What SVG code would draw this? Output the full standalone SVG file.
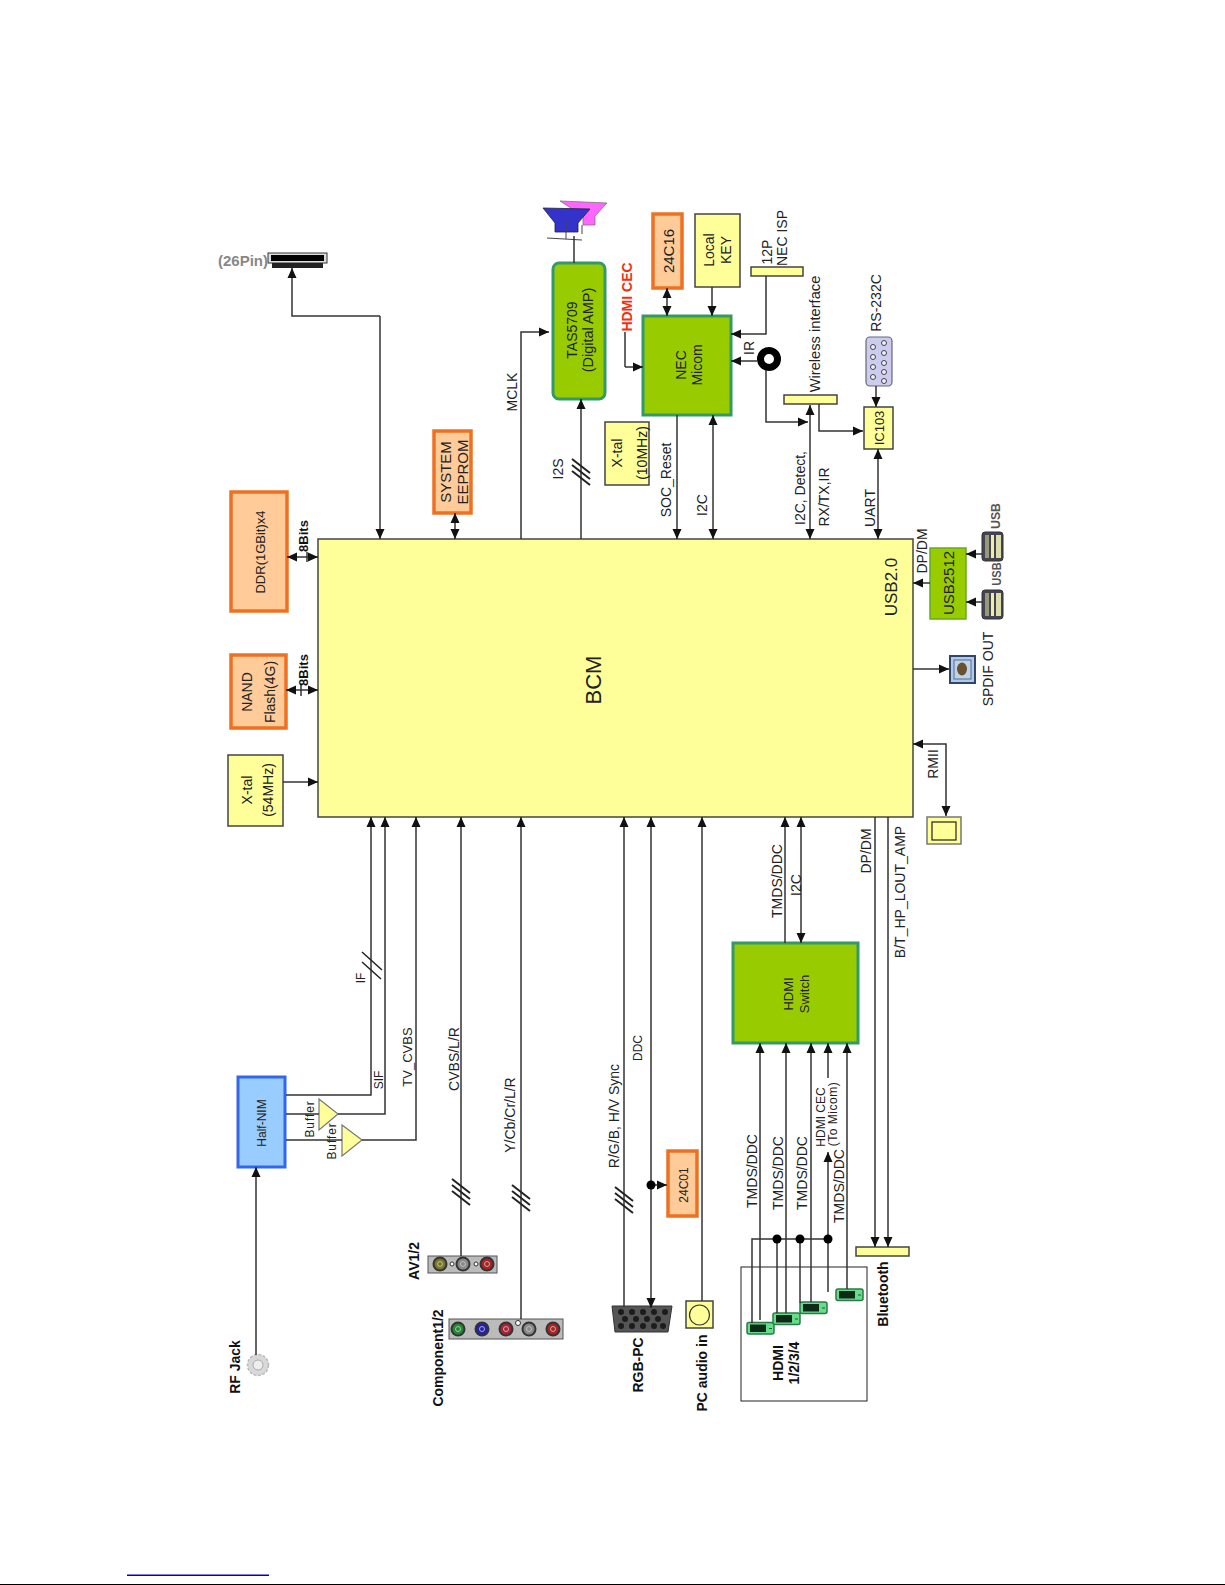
<svg xmlns="http://www.w3.org/2000/svg" xmlns:xlink="http://www.w3.org/1999/xlink" width="1225" height="1585" viewBox="0 0 1225 1585">
<style>
text{font-family:"Liberation Sans",Arial,sans-serif;fill:#222;text-anchor:middle;dominant-baseline:central}
.s12{font-size:12px}.s13{font-size:13px}.s14{font-size:14px}.s15{font-size:15px}
.sp{letter-spacing:0.9px}
.b{font-weight:bold;fill:#111}
.y{fill:#ffff99;stroke:#444;stroke-width:1.5}
.o{fill:#ffcc99;stroke:#ee7020;stroke-width:3.5}
.g{fill:#99cc00;stroke:#339966;stroke-width:3}
.c path,.c line{fill:none;stroke:#333;stroke-width:1.5}
.a{marker-end:url(#ah)}
.d{marker-end:url(#ah);marker-start:url(#ahs)}
.t line{stroke:#222;stroke-width:2}
.plate{fill:#bbb;stroke:#555;stroke-width:1}
</style>
<defs>
<marker id="ah" markerUnits="userSpaceOnUse" markerWidth="10" markerHeight="10" refX="10" refY="5" viewBox="0 0 10 10" orient="auto"><path d="M0,0.5 L10,5 L0,9.5 z" fill="#111"/></marker>
<marker id="ahs" markerUnits="userSpaceOnUse" markerWidth="10" markerHeight="10" refX="0" refY="5" viewBox="0 0 10 10" orient="auto"><path d="M10,0.5 L0,5 L10,9.5 z" fill="#111"/></marker>
<g id="t3" class="t"><line x1="-9" y1="-13" x2="9" y2="1"/><line x1="-9" y1="-7" x2="9" y2="7"/><line x1="-9" y1="-1" x2="9" y2="13"/></g>
<g id="hdmi"><rect x="0" y="0" width="27" height="11.500" rx="2" fill="#66dd88" stroke="#2a7a4a" stroke-width="1.500"/><rect x="3" y="2" width="16" height="7.500" fill="#0f2a18"/><line x1="22" y1="6" x2="25" y2="6" stroke="#1a5a30" stroke-width="1"/></g>
<g id="jack"><circle r="7.500" fill="#333"/><circle r="5.500" fill="currentColor"/><circle r="2.500" fill="none" stroke="#ccc" stroke-width="0.800"/></g>
<g id="usbc"><rect x="0" y="0" width="21" height="29" rx="3" fill="#445" stroke="#333"/><rect x="3" y="3" width="4" height="23" fill="#999977"/><rect x="9" y="3" width="3" height="23" fill="#eeeeaa"/><rect x="14" y="3" width="5" height="23" fill="#ddddaa"/></g>
</defs>
<rect width="1225" height="1585" fill="#fff"/>

<g id="bcm"><rect x="318" y="539" width="595" height="278" class="y"/><text transform="translate(593,680) rotate(-90)" style="font-size:22px">BCM</text><text transform="translate(891,587) rotate(-90)" style="font-size:17px">USB2.0</text></g>

<g id="ddr"><rect x="231" y="492" width="56" height="119" class="o"/><text transform="translate(260,552) rotate(-90)" class="s13">DDR(1GBit)x4</text></g>
<g id="nand"><rect x="231" y="655" width="55" height="73" class="o"/><text transform="translate(247,692) rotate(-90)" class="s14">NAND</text><text transform="translate(270,692) rotate(-90)" class="s14">Flash(4G)</text></g>
<g id="xtal54"><rect x="228" y="755" width="55" height="71" class="y"/><text transform="translate(247,790) rotate(-90)" class="s14">X-tal</text><text transform="translate(268,790) rotate(-90)" class="s14">(54MHz)</text></g>
<g id="eeprom"><rect x="434" y="431" width="37" height="82" class="o"/><text transform="translate(445,472) rotate(-90)" class="s15">SYSTEM</text><text transform="translate(462,472) rotate(-90)" class="s15">EEPROM</text></g>
<g id="conn26"><rect x="268" y="253" width="59" height="10" fill="#ddd" stroke="#333" stroke-width="1"/><rect x="271" y="255" width="53" height="6" fill="#000"/><rect x="272" y="263" width="51" height="5" fill="#222"/><text x="243" y="260" style="font-size:15px;font-weight:bold;fill:#888">(26Pin)</text></g>
<g id="speakers"><path d="M560,201 L607,203 L595,216 L595,225 L583,225 L583,216 z" fill="#ff66ff" stroke="#777" stroke-width="0.800"/><path d="M543,208 L590,209 L578,223 L578,232 L555,232 L555,223 z" fill="#3333cc" stroke="#223" stroke-width="0.800"/><path d="M547,238 L582,240 M566,220 V239 M582,225 V234" fill="none" stroke="#444" stroke-width="1"/></g>
<g id="tas"><rect x="553" y="263" width="52" height="136" rx="6" class="g"/><text transform="translate(572,330) rotate(-90)" class="s14">TAS5709</text><text transform="translate(588,330) rotate(-90)" style="font-size:14.500px">(Digital AMP)</text></g>
<g id="e24c16"><rect x="653" y="214" width="29" height="74" class="o"/><text transform="translate(668,251) rotate(-90)" class="s15">24C16</text></g>
<g id="localkey"><rect x="695" y="214" width="45" height="73" class="y"/><text transform="translate(709,250) rotate(-90)" class="s14">Local</text><text transform="translate(726,250) rotate(-90)" class="s14">KEY</text></g>
<g id="isp"><rect x="751" y="267" width="52" height="9" class="y"/><text transform="translate(767,252) rotate(-90)" class="s14">12P</text><text transform="translate(782,238) rotate(-90)" class="s14">NEC ISP</text></g>
<g id="micom"><rect x="643" y="316" width="88" height="99" class="g"/><text transform="translate(681,365) rotate(-90)" class="s14">NEC</text><text transform="translate(697,365) rotate(-90)" class="s14">Micom</text></g>
<g id="hdmicec-label"><text transform="translate(627,297) rotate(-90)" class="s14" style="font-weight:bold;fill:#f03010">HDMI CEC</text></g>
<g id="irsensor"><circle cx="769" cy="359" r="8.500" fill="none" stroke="#000" stroke-width="7"/><text transform="translate(749,348) rotate(-90)" class="s14">IR</text></g>
<g id="wireless"><rect x="784" y="395" width="53" height="9" class="y"/><text transform="translate(815,334) rotate(-90)" style="font-size:14.700px">Wireless interface</text></g>
<g id="ic103"><rect x="864" y="407" width="29" height="42" class="y"/><text transform="translate(879,428) rotate(-90)" class="s13">IC103</text></g>
<g id="rs232"><rect x="866" y="337" width="26" height="49" rx="4" fill="#ccccee" stroke="#667" stroke-width="1.200"/><g fill="#eef" stroke="#444" stroke-width="1"><circle cx="884" cy="343" r="2.500"/><circle cx="884" cy="353" r="2.500"/><circle cx="884" cy="363" r="2.500"/><circle cx="884" cy="372" r="2.500"/><circle cx="884" cy="381" r="2.500"/><circle cx="873" cy="347" r="2.500"/><circle cx="873" cy="357" r="2.500"/><circle cx="873" cy="367" r="2.500"/><circle cx="873" cy="377" r="2.500"/></g><text transform="translate(876,303) rotate(-90)" class="s14">RS-232C</text></g>
<g id="xtal10"><rect x="605" y="422" width="44" height="63" class="y"/><text transform="translate(617,453) rotate(-90)" class="s14">X-tal</text><text transform="translate(642,453) rotate(-90)" class="s14">(10MHz)</text></g>
<g id="usb2512"><rect x="930" y="548" width="36" height="71" fill="#99cc00" stroke="#66aa22" stroke-width="1.500"/><text transform="translate(948,583) rotate(-90)" class="s15">USB2512</text></g>
<g id="usb1"><use href="#usbc" x="982" y="532"/><text transform="translate(996,516) rotate(-90) scale(0.95,1)" class="s13 b" style="fill:#555">USB</text></g>
<g id="usb2"><use href="#usbc" x="982" y="590"/><text transform="translate(997,574) rotate(-90) scale(0.85,1)" class="s13 b" style="fill:#555">USB</text></g>
<g id="spdif"><rect x="950" y="656" width="25" height="27" fill="#aaccee" stroke="#334466" stroke-width="2"/><rect x="954" y="660" width="17" height="19" fill="#bbd4ee" stroke="#667" stroke-width="1"/><ellipse cx="962" cy="669" rx="5" ry="6.500" fill="#6b5030"/><text transform="translate(988,669) rotate(-90)" class="s14">SPDIF OUT</text></g>
<g id="rmiiport"><rect x="927" y="817" width="34" height="27" fill="#ffff99" stroke="#777" stroke-width="1.500"/><rect x="932" y="822" width="24" height="18" fill="#ffff99" stroke="#222" stroke-width="1.200"/><text transform="translate(933,764) rotate(-90)" class="s14">RMII</text></g>

<g id="halfnim"><rect x="238" y="1077" width="47" height="90" fill="#99ccff" stroke="#3366ee" stroke-width="3"/><text transform="translate(262,1123) rotate(-90)" class="s12">Half-NIM</text></g>
<g id="buffer1"><path d="M319,1099 V1130 L338,1114 z" fill="#ffff99" stroke="#777" stroke-width="1.200"/><text transform="translate(310,1119) rotate(-90)" class="s12 sp">Buffer</text></g>
<g id="buffer2"><path d="M342,1125 V1156 L362,1140 z" fill="#ffff99" stroke="#777" stroke-width="1.200"/><text transform="translate(332,1141) rotate(-90)" class="s12 sp">Buffer</text></g>
<g id="rfjack"><circle cx="258" cy="1365" r="10.500" fill="#d8d8d8" stroke="#bbb" stroke-width="1.500" stroke-dasharray="3 1.500"/><circle cx="258" cy="1365" r="5" fill="#eee" stroke="#aaa"/><text transform="translate(235,1367) rotate(-90)" class="s14 b">RF Jack</text></g>
<g id="av"><rect x="428" y="1256" width="69" height="17" class="plate"/><use href="#jack" x="440" y="1264" color="#777722"/><use href="#jack" x="463" y="1264" color="#888"/><use href="#jack" x="487" y="1264" color="#aa2222"/><circle cx="452" cy="1264" r="2" fill="#fff" stroke="#333"/><circle cx="476" cy="1264" r="2" fill="#fff" stroke="#333"/><text transform="translate(414,1261) rotate(-90)" class="s14 b">AV1/2</text></g>
<g id="component"><rect x="449" y="1319" width="114" height="20" class="plate"/><use href="#jack" x="458" y="1329" color="#228833"/><use href="#jack" x="482" y="1329" color="#2222aa"/><use href="#jack" x="506" y="1329" color="#aa2233"/><use href="#jack" x="529" y="1329" color="#888"/><use href="#jack" x="553" y="1329" color="#aa2222"/><circle cx="518" cy="1323" r="2.500" fill="#fff" stroke="#333"/><text transform="translate(438,1358) rotate(-90)" class="s14 b">Component1/2</text></g>
<g id="vga"><path d="M612,1306 H672 L668,1332 H615 z" fill="#555" stroke="#333"/><g fill="#1c1c1c"><circle cx="621" cy="1312" r="3"/><circle cx="632" cy="1312" r="3"/><circle cx="643" cy="1312" r="3"/><circle cx="654" cy="1312" r="3"/><circle cx="665" cy="1312" r="3"/><circle cx="625" cy="1319" r="3"/><circle cx="636" cy="1319" r="3"/><circle cx="647" cy="1319" r="3"/><circle cx="658" cy="1319" r="3"/><circle cx="621" cy="1326" r="3"/><circle cx="632" cy="1326" r="3"/><circle cx="643" cy="1326" r="3"/><circle cx="654" cy="1326" r="3"/><circle cx="663" cy="1326" r="3"/></g><text transform="translate(638,1365) rotate(-90)" class="s14 b">RGB-PC</text></g>
<g id="e24c01"><rect x="668" y="1151" width="29" height="65" class="o"/><text transform="translate(684,1185) rotate(-90)" class="s12">24C01</text></g>
<g id="pcaudio"><rect x="686" y="1301" width="27" height="27" class="y"/><circle cx="699.500" cy="1315" r="10" fill="none" stroke="#333" stroke-width="1.200"/><text transform="translate(702,1373) rotate(-90)" class="s14 b">PC audio in</text></g>
<g id="hdmiswitch"><rect x="733" y="943" width="125" height="100" class="g"/><text transform="translate(788,994) rotate(-90)" class="s13">HDMI</text><text transform="translate(804,994) rotate(-90)" class="s13">Switch</text></g>
<g id="hdmiports"><rect x="741" y="1267" width="126" height="134" fill="none" stroke="#222" stroke-width="1"/><use href="#hdmi" x="747" y="1322.500"/><use href="#hdmi" x="773" y="1313"/><use href="#hdmi" x="800" y="1302"/><use href="#hdmi" x="836" y="1289"/><text transform="translate(778,1363) rotate(-90)" class="s14 b">HDMI</text><text transform="translate(794,1363) rotate(-90)" class="s14 b">1/2/3/4</text></g>
<g id="bluetooth"><rect x="856" y="1247" width="53" height="9" class="y"/><text transform="translate(883,1294) rotate(-90)" class="s14 b">Bluetooth</text></g>

<g id="connectors" class="c">
<path class="a" d="M380,316 V539"/><path class="a" d="M380,316 H292 V268"/>
<path class="a" d="M521,539 V332 H549"/>
<path class="a" d="M581,539 V399"/>
<path class="d" d="M455,513 V539"/>
<path class="d" d="M287,557 H318"/><path d="M307,552 V562"/>
<path class="d" d="M286,690 H318"/><path d="M301,684 V696"/>
<path class="a" d="M283,782 H318"/>
<path d="M574,236 V263"/>
<path d="M625,332 V367"/><path class="a" d="M625,367 H643"/>
<path class="d" d="M667,288 V316"/>
<path class="a" d="M712,287 V316"/>
<path class="a" d="M766,276 V334 H731"/>
<path class="a" d="M757,361 H731"/>
<path class="a" d="M766,370 V422 H808"/>
<path class="d" d="M810,405 V539"/>
<path class="a" d="M819,404 V431 H863"/>
<path class="a" d="M876,386 V407"/>
<path class="d" d="M878,449 V539"/>
<path class="a" d="M677,415 V539"/>
<path class="d" d="M713,415 V539"/>
<path class="a" d="M930,583 H913"/>
<path class="a" d="M982,554 H966"/>
<path class="a" d="M982,602 H966"/>
<path class="a" d="M913,669 H949"/>
<path class="d" d="M913,744 H946 V816"/>
<path class="a" d="M286,1095 H371 V817"/>
<path d="M286,1114 H319"/><path class="a" d="M338,1114 H385 V817"/>
<path d="M286,1140 H342"/><path class="a" d="M362,1140 H416 V817"/>
<path class="a" d="M256,1355 V1167"/>
<path class="a" d="M461,1256 V817"/>
<path class="a" d="M521,1319 V817"/>
<path class="a" d="M624,1307 V817"/>
<path class="d" d="M651,1308 V817"/>
<path class="a" d="M651,1185 H667"/>
<path class="a" d="M702,1301 V817"/>
<path class="a" d="M785,943 V817"/>
<path class="d" d="M801,943 V817"/>
<path class="a" d="M875,817 V1247"/>
<path class="a" d="M888,817 V1247"/>
<path class="a" d="M760,1320 V1043"/>
<path class="a" d="M786,1313 V1043"/>
<path class="a" d="M811,1302 V1043"/>
<path class="a" d="M847,1289 V1043"/>
<path class="a" d="M828,1078 V1043"/>
<path class="a" d="M828,1292 V1152"/>
<path d="M752,1323 V1239 H828 M777,1313 V1239 M800,1303 V1239"/>
<use href="#t3" x="581" y="472"/><use href="#t3" x="461" y="1192"/><use href="#t3" x="521" y="1198"/><use href="#t3" x="624" y="1200"/>
<g class="t"><line x1="362" y1="952" x2="382" y2="970" style="stroke-width:1.500"/><line x1="362" y1="962" x2="381" y2="979" style="stroke-width:1.500"/></g>
<g fill="#000"><circle cx="651" cy="1185" r="4.500"/><circle cx="777" cy="1239" r="4.500"/><circle cx="800" cy="1239" r="4.500"/><circle cx="828" cy="1239" r="4.500"/></g>
</g>

<g id="labels">
<text transform="translate(303,536) rotate(-90)" class="s13 b">8Bits</text>
<text transform="translate(303,670) rotate(-90)" class="s13 b">8Bits</text>
<text transform="translate(512,392) rotate(-90)" class="s14">MCLK</text>
<text transform="translate(558,469) rotate(-90)" class="s14">I2S</text>
<text transform="translate(666,480) rotate(-90)" class="s14">SOC_Reset</text>
<text transform="translate(702,505) rotate(-90)" class="s14">I2C</text>
<text transform="translate(800,488) rotate(-90)" class="s14">I2C, Detect,</text>
<text transform="translate(824,497) rotate(-90)" class="s14">RX/TX,IR</text>
<text transform="translate(870,508) rotate(-90)" class="s14">UART</text>
<text transform="translate(922,551) rotate(-90)" class="s14">DP/DM</text>
<text transform="translate(361,978) rotate(-90)" class="s12">IF</text>
<text transform="translate(379,1080) rotate(-90)" class="s12">SIF</text>
<text transform="translate(407,1057) rotate(-90)" class="s13">TV_CVBS</text>
<text transform="translate(454,1059) rotate(-90)" class="s14">CVBS/L/R</text>
<text transform="translate(510,1115) rotate(-90)" class="s14">Y/Cb/Cr/L/R</text>
<text transform="translate(614,1116) rotate(-90)" class="s14">R/G/B, H/V Sync</text>
<text transform="translate(638,1048) rotate(-90)" class="s12">DDC</text>
<text transform="translate(777,881) rotate(-90)" class="s14">TMDS/DDC</text>
<text transform="translate(796,885) rotate(-90)" class="s14">I2C</text>
<text transform="translate(866,851) rotate(-90)" class="s14">DP/DM</text>
<text transform="translate(900,892) rotate(-90)" class="s14">B/T_HP_LOUT_AMP</text>
<text transform="translate(752,1171) rotate(-90)" class="s14">TMDS/DDC</text>
<text transform="translate(778,1173) rotate(-90)" class="s14">TMDS/DDC</text>
<text transform="translate(802,1173) rotate(-90)" class="s14">TMDS/DDC</text>
<text transform="translate(839,1186) rotate(-90)" class="s14">TMDS/DDC</text>
<text transform="translate(821,1117) rotate(-90)" class="s12">HDMI CEC</text>
<text transform="translate(833,1114) rotate(-90)" class="s12" style="letter-spacing:0.5px">(To Micom)</text>
</g>
<rect x="127" y="1574.500" width="142" height="1.500" fill="#0000cc"/>
<rect x="0" y="1584" width="1225" height="1" fill="#000"/>
</svg>
